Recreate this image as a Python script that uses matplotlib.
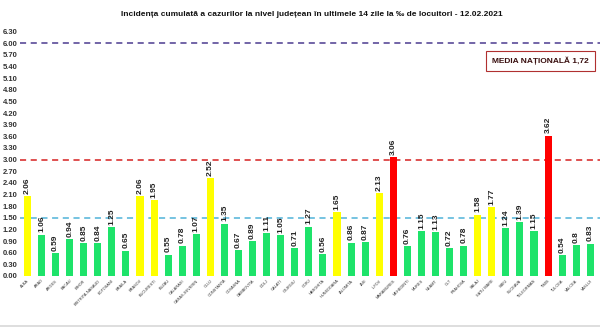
import numpy as np
from matplotlib import pyplot as plt
from matplotlib.lines import Line2D

judete = ["ALBA", "ARAD", "ARGES", "BACAU", "BIHOR", "BISTRITA-NASAUD", "BOTOSANI",
          "BRAILA", "BRASOV", "BUCURESTI", "BUZAU", "CALARASI", "CARAS-SEVERIN", "CLUJ",
          "CONSTANTA", "COVASNA", "DAMBOVITA", "DOLJ", "GALATI", "GIURGIU", "GORJ",
          "HARGHITA", "HUNEDOARA", "IALOMITA", "IASI", "ILFOV", "MARAMURES", "MEHEDINTI",
          "MURES", "NEAMT", "OLT", "PRAHOVA", "SALAJ", "SATU MARE", "SIBIU", "SUCEAVA",
          "TELEORMAN", "TIMIS", "TULCEA", "VALCEA", "VASLUI"]
incidenta = [2.06, 1.06, 0.59, 0.94, 0.85, 0.84, 1.25,
             0.65, 2.06, 1.95, 0.55, 0.78, 1.07, 2.52,
             1.35, 0.67, 0.89, 1.11, 1.05, 0.71, 1.27,
             0.56, 1.65, 0.86, 0.87, 2.13, 3.06, 0.76,
             1.15, 1.13, 0.72, 0.78, 1.58, 1.77, 1.24, 1.39,
             1.15, 3.62, 0.54, 0.8, 0.83]
etichete = ["2.06", "1.06", "0.59", "0.94", "0.85", "0.84", "1.25",
            "0.65", "2.06", "1.95", "0.55", "0.78", "1.07", "2.52",
            "1.35", "0.67", "0.89", "1.11", "1.05", "0.71", "1.27",
            "0.56", "1.65", "0.86", "0.87", "2.13", "3.06", "0.76",
            "1.15", "1.13", "0.72", "0.78", "1.58", "1.77", "1.24", "1.39",
            "1.15", "3.62", "0.54", "0.8", "0.83"]
praguri = [1.5, 3.0, 6.0]
media_nationala = "1,72"
titlu = "Incidența cumulată a cazurilor la nivel județean în ultimele 14 zile la ‰ de locuitori - 12.02.2021"

plt.rcParams['font.family'] = ['Liberation Sans', 'DejaVu Sans']

def culoare(v):
    if v > 3.0:
        return '#ff0000'
    if v >= 1.5:
        return '#ffff00'
    return '#1ee36a'

fig = plt.figure(figsize=(6, 3.34), dpi=100)
ax = fig.add_axes([0.034, 0.174, 0.985, 0.731])

x = np.arange(len(judete))
ax.bar(x, incidenta, width=0.5, color=[culoare(v) for v in incidenta], zorder=2)

for xi, v, et in zip(x, incidenta, etichete):
    ax.text(xi, v + 0.06, et, rotation=90, ha='center', va='bottom',
            fontsize=6, fontweight='bold', color='#222222')

# praguri
ax.axhline(praguri[0], color='#4fb3d9', lw=1.1, ls=(0, (4, 3)), zorder=1)
ax.axhline(praguri[1], color='#d62020', lw=1.1, ls=(0, (4, 3)), zorder=1)
ax.axhline(praguri[2], color='#4b3b8f', lw=1.1, ls=(0, (4, 3)), zorder=1)

# un loc in plus la dreapta (VRANCEA, taiat in original)
ax.set_xlim(-0.5, len(judete) + 0.5)
ax.set_ylim(0, 6.3)
ax.set_yticks(np.arange(0, 6.31, 0.3))
ax.set_yticklabels([f"{t:.2f}" for t in np.arange(0, 6.31, 0.3)],
                   fontsize=5.5, fontweight='bold', color='#333333')
ax.set_xticks(x)
ax.set_xticklabels(judete, rotation=45, ha='right', rotation_mode='anchor',
                   fontsize=2.8, color='#333333')
ax.tick_params(length=0, pad=2)
for s in ax.spines.values():
    s.set_visible(False)

ax.text(0.962, 0.88, "MEDIA NAȚIONALĂ " + media_nationala, transform=ax.transAxes,
        ha='right', va='center', fontsize=6, fontweight='bold', color='#3a1010',
        bbox=dict(boxstyle='square,pad=0.7', fc='white', ec='#b03030', lw=0.8))

fig.text(0.52, 0.958, titlu, ha='center', va='center', fontsize=6, fontweight='bold',
         color='#111111')

# chenar gri jos
fig.add_artist(Line2D([0, 1], [0.025, 0.025], color='#d8d8d8', lw=1.2))

fig.savefig('out.png', dpi=100)
